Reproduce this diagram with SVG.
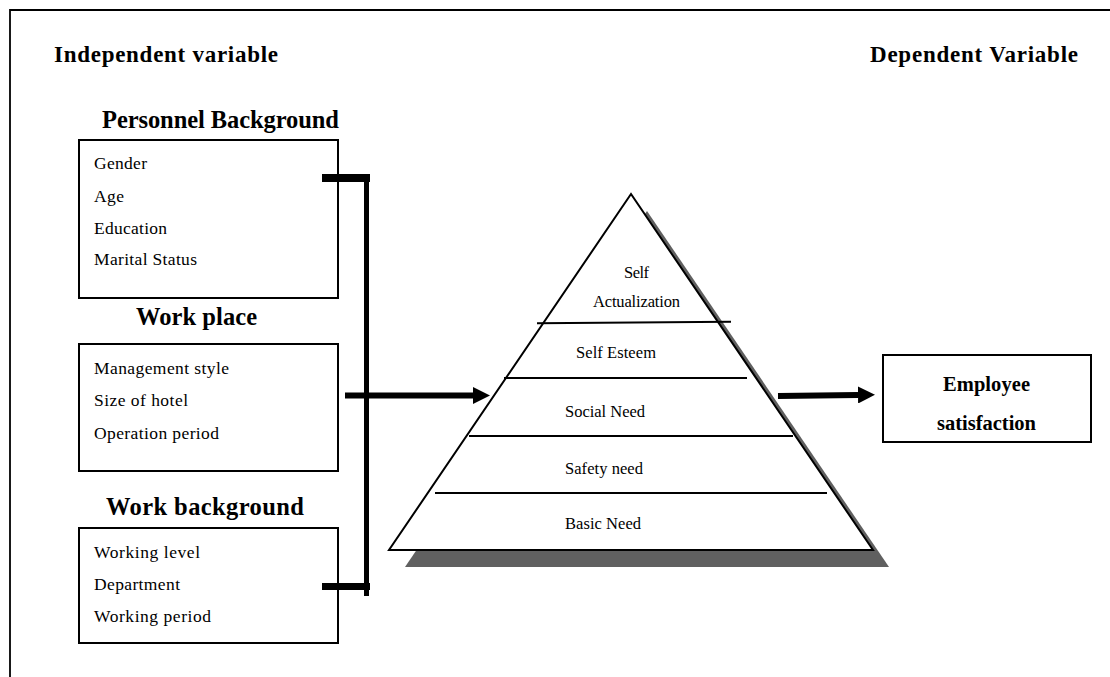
<svg xmlns="http://www.w3.org/2000/svg" width="1110" height="677" viewBox="0 0 1110 677">
<style>
text{font-family:"Liberation Serif","Times New Roman",serif;fill:#000}
.h{font-weight:bold;font-size:23px}
.t{font-weight:bold;font-size:24.5px}
.i{font-size:17.5px}
.p{font-size:16.5px}
.e{font-weight:bold;font-size:20.5px}
.box{fill:#fff;stroke:#000;stroke-width:2}
.lvl{stroke:#000;stroke-width:2}
</style>
<defs>
<marker id="ah" markerWidth="17" markerHeight="17" refX="0" refY="8.5" orient="auto" markerUnits="userSpaceOnUse">
<path d="M0,0 L17,8.5 L0,17 Z" fill="#000"/>
</marker>
</defs>
<rect width="1110" height="677" fill="#fff"/>
<path d="M10,677 V10 H1110" fill="none" stroke="#000" stroke-width="1.8"/>
<text class="h" x="54" y="62" textLength="224" lengthAdjust="spacing">Independent variable</text>
<text class="h" x="870" y="62" textLength="208" lengthAdjust="spacing">Dependent Variable</text>

<g id="personnel-background">
<text class="t" x="102" y="128" textLength="237" lengthAdjust="spacing">Personnel Background</text>
<rect class="box" x="79" y="140" width="259" height="158"/>
<text class="i" x="94" y="169" textLength="53" lengthAdjust="spacing">Gender</text>
<text class="i" x="94" y="202" textLength="30" lengthAdjust="spacing">Age</text>
<text class="i" x="94" y="234" textLength="73" lengthAdjust="spacing">Education</text>
<text class="i" x="94" y="265" textLength="103" lengthAdjust="spacing">Marital Status</text>
</g>

<g id="work-place">
<text class="t" x="136" y="325" textLength="121" lengthAdjust="spacing">Work place</text>
<rect class="box" x="79" y="344" width="259" height="127"/>
<text class="i" x="94" y="374" textLength="135" lengthAdjust="spacing">Management style</text>
<text class="i" x="94" y="406" textLength="94" lengthAdjust="spacing">Size of hotel</text>
<text class="i" x="94" y="439" textLength="125" lengthAdjust="spacing">Operation period</text>
</g>

<g id="work-background">
<text class="t" x="106" y="515" textLength="198" lengthAdjust="spacing">Work background</text>
<rect class="box" x="79" y="528" width="259" height="115"/>
<text class="i" x="94" y="558" textLength="106" lengthAdjust="spacing">Working level</text>
<text class="i" x="94" y="590" textLength="86" lengthAdjust="spacing">Department</text>
<text class="i" x="94" y="622" textLength="117" lengthAdjust="spacing">Working period</text>
</g>

<g id="pyramid">
<polygon points="647,211 405,567 889,567" fill="#606060"/>
<polygon points="631,194 389,550 873,550" fill="#fff" stroke="#000" stroke-width="2" stroke-linejoin="miter"/>
<line class="lvl" x1="537" y1="323.3" x2="731" y2="321.7"/>
<line class="lvl" x1="504" y1="378" x2="747" y2="378"/>
<line class="lvl" x1="469" y1="436" x2="793" y2="436"/>
<line class="lvl" x1="435" y1="493" x2="827" y2="493"/>
<text class="p" x="624" y="278" textLength="25" lengthAdjust="spacing">Self</text>
<text class="p" x="593" y="307" textLength="87" lengthAdjust="spacing">Actualization</text>
<text class="p" x="576" y="358" textLength="80" lengthAdjust="spacing">Self Esteem</text>
<text class="p" x="565" y="417" textLength="80" lengthAdjust="spacing">Social Need</text>
<text class="p" x="565" y="474" textLength="78" lengthAdjust="spacing">Safety need</text>
<text class="p" x="565" y="529" textLength="76" lengthAdjust="spacing">Basic Need</text>
</g>

<g id="employee-satisfaction">
<rect class="box" x="883" y="355" width="208" height="87"/>
<text class="e" x="943" y="391" textLength="87" lengthAdjust="spacing">Employee</text>
<text class="e" x="937" y="430" textLength="99" lengthAdjust="spacing">satisfaction</text>
</g>

<g id="connectors">
<line x1="322" y1="178" x2="370" y2="178" stroke="#000" stroke-width="8"/>
<line x1="322" y1="586.5" x2="370" y2="586.5" stroke="#000" stroke-width="7"/>
<line x1="366.5" y1="174" x2="366.5" y2="596" stroke="#000" stroke-width="5"/>
<line x1="345" y1="395.5" x2="473" y2="395.5" stroke="#000" stroke-width="6" marker-end="url(#ah)"/>
<line x1="778" y1="396" x2="858" y2="395" stroke="#000" stroke-width="6" marker-end="url(#ah)"/>
</g>
</svg>
